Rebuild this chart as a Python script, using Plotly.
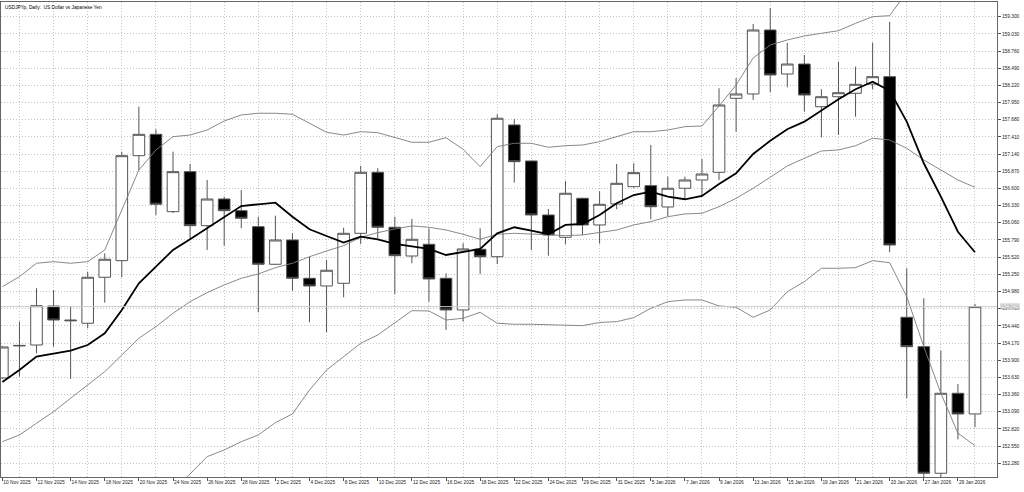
import plotly.graph_objects as go

# USDJPYp daily candles, 10 Nov 2025 - 30 Jan 2026
dates = ["10 Nov 2025", "11 Nov 2025", "12 Nov 2025", "13 Nov 2025", "14 Nov 2025",
         "17 Nov 2025", "18 Nov 2025", "19 Nov 2025", "20 Nov 2025", "21 Nov 2025",
         "24 Nov 2025", "25 Nov 2025", "26 Nov 2025", "27 Nov 2025", "28 Nov 2025",
         "1 Dec 2025", "2 Dec 2025", "3 Dec 2025", "4 Dec 2025", "5 Dec 2025",
         "8 Dec 2025", "9 Dec 2025", "10 Dec 2025", "11 Dec 2025", "12 Dec 2025",
         "15 Dec 2025", "16 Dec 2025", "17 Dec 2025", "18 Dec 2025", "19 Dec 2025",
         "22 Dec 2025", "23 Dec 2025", "24 Dec 2025", "26 Dec 2025", "29 Dec 2025",
         "30 Dec 2025", "31 Dec 2025", "2 Jan 2026", "5 Jan 2026", "6 Jan 2026",
         "7 Jan 2026", "8 Jan 2026", "9 Jan 2026", "12 Jan 2026", "13 Jan 2026",
         "14 Jan 2026", "15 Jan 2026", "16 Jan 2026", "19 Jan 2026", "20 Jan 2026",
         "21 Jan 2026", "22 Jan 2026", "23 Jan 2026", "26 Jan 2026", "27 Jan 2026",
         "28 Jan 2026", "29 Jan 2026", "30 Jan 2026"]

open_ = [153.621, 154.124, 154.139, 154.752, 154.532, 154.481, 155.204, 155.465, 157.115, 157.451,
         156.235, 156.864, 156.015, 156.434, 156.251, 155.999, 155.408, 155.790, 155.188, 155.067,
         155.109, 155.895, 156.854, 155.990, 155.538, 155.722, 155.188, 154.690, 155.644, 155.527,
         157.598, 157.032, 156.183, 155.832, 156.445, 156.026, 156.356, 156.628, 156.644, 156.309,
         156.603, 156.733, 156.854, 158.017, 158.085, 159.091, 158.399, 158.556, 157.885, 158.042,
         158.096, 158.242, 158.357, 154.575, 154.113, 152.123, 153.380, 153.055]
high = [154.124, 154.506, 155.031, 155.004, 154.752, 155.292, 155.581, 157.178, 157.885, 157.530,
        157.178, 156.985, 156.733, 156.471, 156.576, 156.156, 156.172, 155.895, 155.527, 155.476,
        155.983, 156.953, 156.917, 156.156, 156.120, 155.974, 155.266, 155.738, 155.974, 157.766,
        157.692, 157.040, 156.277, 156.717, 156.455, 156.556, 156.985, 156.996, 157.283, 156.785,
        156.785, 157.063, 158.175, 158.336, 159.185, 159.437, 158.887, 158.698, 158.159, 158.593,
        158.514, 158.891, 159.221, 155.345, 154.874, 154.050, 153.526, 154.784]
low = [153.605, 153.641, 154.009, 154.113, 153.605, 154.402, 154.804, 155.204, 156.890, 156.183,
       156.214, 155.790, 155.633, 155.700, 155.974, 154.653, 155.397, 154.993, 154.496, 154.339,
       154.889, 155.727, 155.817, 154.936, 155.424, 154.820, 154.375, 154.506, 155.256, 155.413,
       156.691, 155.633, 155.543, 155.722, 155.869, 155.732, 156.273, 156.615, 156.115, 156.167,
       156.419, 156.471, 156.733, 157.492, 157.991, 158.116, 158.190, 157.807, 157.404, 157.440,
       157.728, 158.159, 155.597, 153.302, 152.049, 152.049, 152.657, 152.846]
close = [154.108, 154.132, 154.757, 154.532, 154.521, 155.204, 155.487, 157.115, 157.451, 156.351,
         156.864, 156.015, 156.434, 156.251, 156.131, 155.408, 155.790, 155.188, 155.067, 155.314,
         155.895, 156.854, 155.990, 155.543, 155.801, 155.177, 154.690, 155.649, 155.527, 157.703,
         157.021, 156.183, 155.869, 156.524, 156.026, 156.351, 156.681, 156.848, 156.313, 156.603,
         156.733, 156.827, 157.912, 158.085, 159.091, 158.384, 158.556, 158.069, 158.042, 158.105,
         158.237, 158.357, 155.711, 154.113, 152.123, 153.380, 153.055, 154.742]

# thick moving average
ma = [153.558, 153.746, 153.956, 153.998, 154.050, 154.139, 154.323, 154.690, 155.109, 155.370,
      155.633, 155.801, 155.979, 156.156, 156.324, 156.351, 156.376, 156.156, 155.958, 155.853,
      155.748, 155.842, 155.801, 155.727, 155.685, 155.649, 155.554, 155.606, 155.649, 155.895,
      155.990, 155.936, 155.880, 156.026, 156.041, 156.183, 156.367, 156.497, 156.549, 156.471,
      156.430, 156.482, 156.670, 156.838, 157.142, 157.351, 157.530, 157.650, 157.833, 158.002,
      158.159, 158.278, 158.137, 157.650, 156.996, 156.471, 155.920, 155.597]

# Bollinger bands
bb_upper = [155.056, 155.213, 155.424, 155.449, 155.424, 155.449, 155.633, 156.262, 156.890, 157.205,
            157.414, 157.440, 157.519, 157.661, 157.755, 157.782, 157.782, 157.766, 157.624, 157.483,
            157.440, 157.492, 157.477, 157.404, 157.326, 157.326, 157.398, 157.216, 156.942, 157.257,
            157.310, 157.310, 157.247, 157.272, 157.283, 157.335, 157.414, 157.492, 157.492, 157.519,
            157.571, 157.582, 157.896, 158.226, 158.651, 158.855, 158.934, 158.997, 159.039, 159.080,
            159.196, 159.300, 159.316, 159.688, 160.191, 160.427, 160.584, 160.663]
bb_mid = [152.619, 152.725, 152.909, 153.091, 153.302, 153.511, 153.720, 153.982, 154.245, 154.427,
          154.638, 154.820, 154.962, 155.083, 155.188, 155.256, 155.355, 155.424, 155.527, 155.617,
          155.700, 155.832, 155.905, 155.963, 156.010, 155.990, 155.947, 155.880, 155.801, 155.880,
          155.895, 155.884, 155.869, 155.858, 155.869, 155.908, 155.947, 156.026, 156.078, 156.156,
          156.199, 156.210, 156.313, 156.445, 156.603, 156.776, 156.953, 157.074, 157.189, 157.205,
          157.272, 157.389, 157.362, 157.231, 157.048, 156.890, 156.733, 156.618]
bb_lower = [150.446, 150.524, 150.634, 150.760, 150.886, 150.996, 151.137, 151.279, 151.467, 151.656,
            151.860, 152.112, 152.384, 152.489, 152.619, 152.725, 152.918, 153.055, 153.432, 153.746,
            153.956, 154.166, 154.297, 154.481, 154.679, 154.674, 154.532, 154.559, 154.653, 154.481,
            154.465, 154.465, 154.454, 154.443, 154.443, 154.493, 154.506, 154.569, 154.716, 154.820,
            154.847, 154.847, 154.753, 154.732, 154.575, 154.690, 154.977, 155.135, 155.345, 155.345,
            155.355, 155.465, 155.433, 154.899, 154.113, 153.380, 152.752, 152.557]

price_ticks = [152.280, 152.550, 152.820, 153.090, 153.360, 153.630, 153.900, 154.170, 154.440,
               154.710, 154.980, 155.250, 155.520, 155.790, 156.060, 156.330, 156.600, 156.870,
               157.140, 157.410, 157.680, 157.950, 158.220, 158.490, 158.760, 159.030, 159.300]

x = list(range(len(dates)))
label_idx = x[::2]
grid_idx = x[1::2]

FONT = "Liberation Sans"
FS = 4.8

fig = go.Figure()

for band in (bb_upper, bb_mid, bb_lower):
    fig.add_trace(go.Scatter(x=x, y=band, mode="lines",
                             line=dict(color="#7a7a7a", width=0.9),
                             hoverinfo="skip", showlegend=False))

fig.add_trace(go.Scatter(x=x, y=ma, mode="lines",
                         line=dict(color="#000000", width=1.8),
                         hoverinfo="skip", showlegend=False))

fig.add_trace(go.Candlestick(
    x=x, open=open_, high=high, low=low, close=close,
    increasing=dict(line=dict(color="#555555", width=1), fillcolor="#ffffff"),
    decreasing=dict(line=dict(color="#555555", width=1), fillcolor="#000000"),
    whiskerwidth=0, showlegend=False))

# current price line and its highlighted label on the price scale
fig.add_hline(y=close[-1], line=dict(color="#c8c8c8", width=1))
fig.add_annotation(x=1, xref="paper", y=close[-1], yref="y", xanchor="left",
                   text=f"{close[-1]:.3f}", showarrow=False, xshift=3,
                   bgcolor="#c4c4c4", borderpad=0,
                   font=dict(family=FONT, size=FS, color="#f4f4f4"))

fig.add_annotation(x=0, xref="paper", y=1, yref="paper", xanchor="left", yanchor="top",
                   xshift=2, yshift=-1, showarrow=False,
                   text="USDJPYp, Daily:  US Dollar vs Japanese Yen",
                   font=dict(family=FONT, size=FS, color="#000000"))

fig.update_layout(
    width=1024, height=492, autosize=False,
    margin=dict(l=1, r=27, t=2, b=15, autoexpand=False),
    paper_bgcolor="#ffffff", plot_bgcolor="#ffffff",
    boxgap=0.32, boxgroupgap=0,
    font=dict(family=FONT, size=FS, color="#222222"),
    hovermode=False,
)

fig.update_xaxes(
    range=[-0.08, 58.29], rangeslider_visible=False, automargin=False,
    tickmode="array", tickvals=label_idx, ticktext=[dates[i] for i in label_idx],
    tickangle=0, ticks="outside", ticklen=3, tickcolor="#555555",
    ticklabelposition="outside right",
    showgrid=False, zeroline=False,
    showline=True, linecolor="#666666", linewidth=1, mirror=True,
    minor=dict(tickmode="array", tickvals=grid_idx, showgrid=True,
               gridcolor="#c4c4c4", griddash="1px,2px", gridwidth=1, ticks=""),
)

fig.update_yaxes(
    range=[152.064, 159.531], side="right", automargin=False,
    tickmode="array", tickvals=price_ticks, tickformat=".3f",
    ticks="outside", ticklen=3, tickcolor="#555555",
    showgrid=True, gridcolor="#c4c4c4", griddash="1px,2px", gridwidth=1,
    zeroline=False,
    showline=True, linecolor="#666666", linewidth=1, mirror=True,
)

# drop the browser's default page margin so the chart fills the window
fig.write_html("out.html", config={"displayModeBar": False},
               post_script="document.body.style.margin='0';document.body.style.overflow='hidden';")
